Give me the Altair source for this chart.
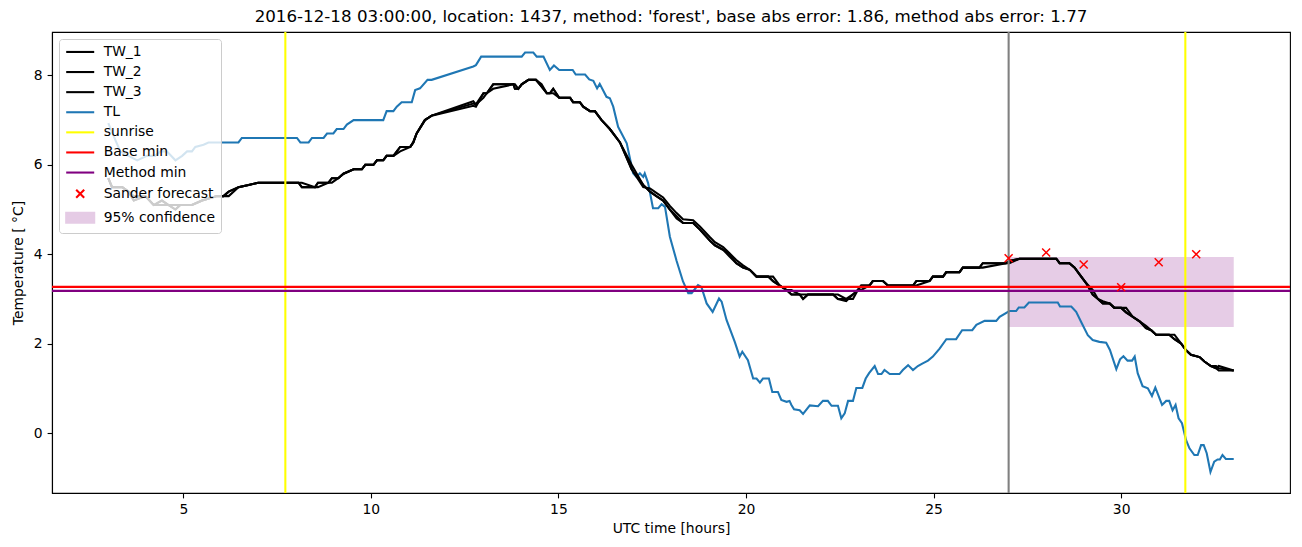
import altair as alt
import pandas as pd

# ---------------- data ----------------
tl_hours = [3.0, 3.19, 3.32, 3.54, 3.77, 4.03, 4.25, 4.39, 4.56, 4.79, 4.97, 5.1, 5.23, 5.32, 5.54, 5.67,
            6.47, 6.56, 8.03, 8.12, 8.34, 8.43, 8.74, 8.83, 9.0, 9.09, 9.27, 9.36, 9.54, 10.33, 10.42,
            10.6, 10.69, 10.82, 11.09, 11.18, 11.31, 11.51, 11.62, 12.73, 12.8, 12.94, 14.02, 14.11,
            14.33, 14.42, 14.6, 14.77, 14.88, 15.02, 15.38, 15.46, 15.71, 15.82, 15.93, 16.03, 16.1,
            16.28, 16.37, 16.46, 16.59, 16.82, 16.99, 17.08, 17.17, 17.26, 17.3, 17.39, 17.52, 17.66,
            17.75, 17.84, 17.97, 18.15, 18.32, 18.46, 18.55, 18.72, 18.81, 18.95, 19.11, 19.28, 19.35,
            19.48, 19.7, 19.83, 19.9, 20.05, 20.19, 20.28, 20.37, 20.45, 20.61, 20.7, 20.85, 20.94,
            21.08, 21.16, 21.21, 21.28, 21.43, 21.52, 21.7, 21.92, 22.05, 22.18, 22.28, 22.45, 22.54,
            22.63, 22.72, 22.85, 22.94, 23.1, 23.19, 23.28, 23.43, 23.52, 23.61, 23.69, 23.83, 24.09,
            24.18, 24.32, 24.45, 24.58, 24.71, 24.85, 24.98, 25.16, 25.34, 25.6, 25.76, 26.03, 26.14,
            26.36, 26.67, 26.76, 27.02, 27.2, 27.27, 27.42, 27.54, 28.31, 28.37, 28.67, 28.8, 28.93,
            29.11, 29.24, 29.42, 29.6, 29.7, 29.87, 29.97, 30.06, 30.17, 30.29, 30.36, 30.44, 30.57,
            30.71, 30.82, 30.91, 31.09, 31.2, 31.28, 31.37, 31.45, 31.53, 31.62, 31.73, 31.82, 31.95,
            32.04, 32.13, 32.2, 32.28, 32.38, 32.48, 32.57, 32.63, 32.7, 32.79, 33.0]
tl_temp = [6.93, 6.55, 6.3, 6.2, 6.1, 6.2, 6.2, 6.3, 6.3, 6.1, 6.2, 6.3, 6.3, 6.4, 6.45, 6.5,
           6.5, 6.6, 6.6, 6.5, 6.5, 6.6, 6.6, 6.7, 6.7, 6.8, 6.8, 6.9, 7.0, 7.0, 7.2,
           7.2, 7.3, 7.4, 7.4, 7.67, 7.71, 7.9, 7.9, 8.2, 8.23, 8.42, 8.42, 8.51,
           8.51, 8.42, 8.42, 8.12, 8.22, 8.12, 8.12, 8.02, 8.02, 7.91, 7.88, 7.71, 7.81,
           7.52, 7.49, 7.3, 6.85, 6.48, 5.81, 5.73, 5.81, 5.73, 5.81, 5.59, 5.03, 5.03,
           5.12, 5.06, 4.39, 3.85, 3.39, 3.13, 3.13, 3.31, 3.27, 2.9, 2.71, 3.01, 2.94,
           2.53, 2.04, 1.71, 1.82, 1.63, 1.22, 1.22, 1.13, 1.22, 1.22, 0.92, 0.92, 0.74,
           0.7, 0.72, 0.63, 0.53, 0.51, 0.43, 0.62, 0.6, 0.72, 0.72, 0.61, 0.61, 0.33,
           0.44, 0.72, 0.72, 1.01, 1.01, 1.22, 1.34, 1.5, 1.32, 1.32, 1.41, 1.32, 1.32,
           1.41, 1.52, 1.41, 1.5, 1.56, 1.62, 1.71, 1.89, 2.1, 2.1, 2.3, 2.3, 2.42,
           2.51, 2.51, 2.6, 2.73, 2.73, 2.81, 2.81, 2.92, 2.92, 2.83, 2.83, 2.71, 2.49,
           2.19, 2.08, 2.04, 2.02, 1.86, 1.43, 1.65, 1.72, 1.62, 1.62, 1.71, 1.34, 1.05,
           1.0, 0.83, 1.02, 0.63, 0.72, 0.72, 0.51, 0.63, 0.33, 0.22, -0.16, -0.34, -0.49,
           -0.49, -0.27, -0.27, -0.45, -0.87, -0.64, -0.59, -0.59, -0.49, -0.58, -0.58]

tw_hours = [3.0, 3.1, 3.37, 3.54, 3.68, 3.99, 4.21, 4.43, 4.61, 4.79, 4.92, 5.23, 5.5, 5.9, 6.07,
            6.21, 6.47, 6.74, 7.0, 8.07, 8.16, 8.51, 8.59, 8.87, 8.96, 9.13, 9.27, 9.54, 9.76, 9.85,
            10.07, 10.16, 10.33, 10.42, 10.6, 10.78, 11.05, 11.13, 11.22, 11.44, 11.62, 12.73, 12.8,
            13.0, 13.09, 13.26, 13.8, 13.84, 13.93, 14.02, 14.2, 14.4, 14.55, 14.69, 14.77, 14.86,
            15.02, 15.31, 15.39, 15.57, 15.66, 15.84, 15.97, 16.06, 16.15, 16.37, 16.64, 16.95,
            17.26, 17.44, 17.61, 17.79, 17.97, 18.15, 18.32, 18.59, 18.77, 19.04, 19.17, 19.39,
            19.56, 19.74, 19.92, 20.1, 20.28, 20.59, 20.72, 20.9, 21.08, 21.21, 21.43, 21.52, 21.65,
            22.32, 22.45, 22.67, 22.85, 22.98, 23.07, 23.29, 23.38, 23.65, 23.78, 24.45, 24.54,
            24.89, 24.98, 25.25, 25.34, 25.69, 25.78, 26.22, 26.31, 26.93, 27.02, 27.29, 28.27,
            28.36, 28.62, 28.76, 28.89, 29.07, 29.24, 29.38, 29.51, 29.69, 29.82, 30.0, 30.13,
            30.31, 30.49, 30.66, 30.8, 30.93, 31.28, 31.42, 31.6, 31.73, 31.86, 32.09, 32.22,
            32.39, 32.53, 32.6, 33.0]
tw_1 = [5.7, 5.5, 5.5, 5.4, 5.2, 5.3, 5.1, 5.2, 5.1, 5.0, 5.1, 5.1, 5.2, 5.3, 5.3,
        5.4, 5.5, 5.55, 5.6, 5.6, 5.5, 5.5, 5.6, 5.6, 5.7, 5.7, 5.8, 5.9, 5.9, 6.0,
        6.0, 6.1, 6.1, 6.2, 6.2, 6.4, 6.4, 6.5, 6.7, 7.0, 7.1, 7.37, 7.35,
        7.6, 7.6, 7.8, 7.8, 7.7, 7.7, 7.8, 7.9, 7.9, 7.75, 7.6, 7.6, 7.7,
        7.5, 7.5, 7.4, 7.4, 7.3, 7.2, 7.2, 7.1, 7.0, 6.8, 6.5, 5.9,
        5.55, 5.4, 5.3, 5.2, 5.0, 4.85, 4.7, 4.7, 4.55, 4.3, 4.2, 4.1,
        3.95, 3.8, 3.7, 3.65, 3.5, 3.5, 3.4, 3.3, 3.2, 3.1, 3.1, 3.0, 3.1,
        3.1, 3.0, 3.0, 3.1, 3.2, 3.3, 3.3, 3.4, 3.4, 3.3, 3.3, 3.4,
        3.4, 3.5, 3.5, 3.6, 3.6, 3.7, 3.7, 3.8, 3.8, 3.85, 3.9, 3.9,
        3.8, 3.8, 3.7, 3.55, 3.35, 3.1, 3.0, 2.9, 2.9, 2.8, 2.8, 2.7,
        2.6, 2.5, 2.35, 2.3, 2.2, 2.2, 2.1, 2.0, 1.85, 1.75, 1.7, 1.6,
        1.5, 1.45, 1.4, 1.4]
tw_2 = [5.7, 5.5, 5.5, 5.4, 5.3, 5.3, 5.1, 5.1, 5.1, 5.0, 5.1, 5.1, 5.2, 5.3, 5.3,
        5.4, 5.5, 5.55, 5.6, 5.6, 5.6, 5.5, 5.6, 5.6, 5.6, 5.7, 5.8, 5.9, 5.9, 6.0,
        6.0, 6.1, 6.1, 6.2, 6.2, 6.4, 6.4, 6.5, 6.7, 7.0, 7.1, 7.42, 7.35,
        7.5, 7.6, 7.8, 7.8, 7.8, 7.7, 7.8, 7.9, 7.9, 7.8, 7.6, 7.6, 7.7,
        7.5, 7.5, 7.4, 7.4, 7.3, 7.2, 7.2, 7.1, 7.0, 6.8, 6.5, 5.9,
        5.5, 5.47, 5.37, 5.27, 5.08, 4.92, 4.78, 4.76, 4.62, 4.38, 4.27, 4.16,
        4.02, 3.87, 3.75, 3.65, 3.5, 3.5, 3.5, 3.3, 3.2, 3.1, 3.1, 3.1, 3.1,
        3.1, 3.1, 3.0, 3.0, 3.2, 3.3, 3.3, 3.4, 3.4, 3.3, 3.3, 3.4,
        3.4, 3.5, 3.5, 3.6, 3.6, 3.7, 3.7, 3.8, 3.8, 3.8, 3.9, 3.9,
        3.8, 3.8, 3.7, 3.55, 3.35, 3.2, 3.0, 2.9, 2.9, 2.8, 2.8, 2.8,
        2.6, 2.5, 2.4, 2.3, 2.2, 2.2, 2.1, 2.0, 1.85, 1.75, 1.7, 1.6,
        1.5, 1.5, 1.45, 1.4]
tw_3 = [5.7, 5.5, 5.5, 5.4, 5.2, 5.3, 5.1, 5.2, 5.1, 5.1, 5.1, 5.1, 5.2, 5.3, 5.3,
        5.3, 5.5, 5.55, 5.6, 5.6, 5.5, 5.5, 5.5, 5.6, 5.7, 5.7, 5.8, 5.9, 5.9, 6.0,
        6.0, 6.1, 6.1, 6.2, 6.2, 6.3, 6.4, 6.5, 6.7, 7.0, 7.1, 7.32, 7.3,
        7.6, 7.6, 7.7, 7.8, 7.7, 7.7, 7.8, 7.9, 7.9, 7.75, 7.6, 7.6, 7.6,
        7.5, 7.5, 7.4, 7.4, 7.3, 7.2, 7.2, 7.1, 7.0, 6.8, 6.5, 6.0,
        5.55, 5.4, 5.3, 5.2, 5.0, 4.8, 4.7, 4.7, 4.55, 4.3, 4.2, 4.1,
        4.0, 3.8, 3.7, 3.65, 3.5, 3.5, 3.4, 3.3, 3.2, 3.2, 3.1, 3.0, 3.1,
        3.1, 3.0, 2.95, 3.1, 3.2, 3.2, 3.3, 3.4, 3.4, 3.3, 3.3, 3.3,
        3.4, 3.5, 3.5, 3.6, 3.6, 3.7, 3.7, 3.7, 3.8, 3.85, 3.9, 3.9,
        3.8, 3.8, 3.7, 3.55, 3.35, 3.1, 3.0, 2.95, 2.9, 2.8, 2.8, 2.7,
        2.6, 2.5, 2.35, 2.3, 2.2, 2.2, 2.2, 2.0, 1.85, 1.75, 1.7, 1.6,
        1.5, 1.45, 1.5, 1.4]

sunrise_hours = [7.72, 31.71]
forecast_hours = [27.0]
base_min = [3.27]
method_min = [3.18]
sander_hours = [27, 28, 29, 30, 31, 32]
sander_temp = [3.91, 4.04, 3.77, 3.26, 3.82, 4.0]
conf_hours = [27.0, 33.0]
conf_temp = [2.37, 3.94]

series_names = ["TW_1", "TW_2", "TW_3", "TL", "sunrise", "Base min", "Method min",
                "Sander forecast", "95% confidence"]

TITLE = ("2016-12-18 03:00:00, location: 1437, method: 'forest', "
         "base abs error: 1.86, method abs error: 1.77")

# ---------------- tables ----------------
df_tl = pd.DataFrame({"hour": tl_hours, "temp": tl_temp})
df_tw = pd.concat([
    pd.DataFrame({"hour": tw_hours, "temp": vals, "series": name})
    for name, vals in [("TW_1", tw_1), ("TW_2", tw_2), ("TW_3", tw_3)]
])
df_sun = pd.DataFrame({"hour": sunrise_hours})
df_fc = pd.DataFrame({"hour": forecast_hours})
df_base = pd.DataFrame({"temp": base_min})
df_meth = pd.DataFrame({"temp": method_min})
df_sander = pd.DataFrame({"hour": sander_hours, "temp": sander_temp,
                          "series": "Sander forecast"})
df_conf = pd.DataFrame({"x1": [conf_hours[0]], "x2": [conf_hours[1]],
                        "y1": [conf_temp[0]], "y2": [conf_temp[1]]})

# ---------------- styling ----------------
FONT = "DejaVu Sans"
FS = 13.9
LW = 2.08
band_col = "#e5cbe5"
stroke_range = ["black", "black", "black", "#1f77b4", "yellow", "red", "purple", "red", band_col]
fill_range = ["transparent"] * 8 + [band_col]
LINE_PATH = "M-2.8,0H2.8"
X_PATH = "M-0.8,-0.8L0.8,0.8M-0.8,0.8L0.8,-0.8"
BOX_PATH = "M-2.8,-1H2.8V1H-2.8Z"
shape_range = [LINE_PATH] * 7 + [X_PATH, BOX_PATH]

xscale = alt.Scale(domain=[1.5, 34.5], nice=False, zero=False)
yscale = alt.Scale(domain=[-1.34, 8.97], nice=False, zero=False)

xaxis = alt.Axis(title="UTC time [hours]", values=[5, 10, 15, 20, 25, 30], format="d",
                 grid=False, tickSize=4.9, tickWidth=1.1, tickColor="black",
                 domainColor="black", domainWidth=1.1, labelFont=FONT, labelFontSize=FS,
                 labelColor="black", labelPadding=4.9, titleFont=FONT, titleFontSize=FS,
                 titleFontWeight="normal", titleColor="black", titlePadding=5)
yaxis = alt.Axis(title="Temperature [ °C]", values=[0, 2, 4, 6, 8], format="d",
                 grid=False, tickSize=4.9, tickWidth=1.1, tickColor="black",
                 domainColor="black", domainWidth=1.1, labelFont=FONT, labelFontSize=FS,
                 labelColor="black", labelPadding=4.9, titleFont=FONT, titleFontSize=FS,
                 titleFontWeight="normal", titleColor="black", titlePadding=8)

X = alt.X("hour:Q", scale=xscale, axis=xaxis)
Y = alt.Y("temp:Q", scale=yscale, axis=yaxis)

legend = alt.Legend(title=None, orient="top-left", offset=7, padding=6, rowPadding=5.1,
                    labelFont=FONT, labelFontSize=FS, labelColor="black", labelLimit=400,
                    symbolSize=100, symbolStrokeWidth=LW, symbolOffset=8.25, labelOffset=16.5,
                    symbolFillColor="transparent", fillColor="rgba(255,255,255,0.8)",
                    strokeColor="#cccccc", cornerRadius=3)

band = alt.Chart(df_conf).mark_rect(color="purple", opacity=0.2).encode(
    x=alt.X("x1:Q", scale=xscale, axis=xaxis), x2="x2:Q",
    y=alt.Y("y1:Q", scale=yscale, axis=yaxis), y2="y2:Q")

tl = alt.Chart(df_tl).mark_line(color="#1f77b4", strokeWidth=LW).encode(x=X, y=Y)

tw = alt.Chart(df_tw).mark_line(color="black", strokeWidth=LW).encode(
    x=X, y=Y, detail="series:N")

sun = alt.Chart(df_sun).mark_rule(color="yellow", strokeWidth=LW).encode(x=X)
fc = alt.Chart(df_fc).mark_rule(color="gray", strokeWidth=LW).encode(x=X)
base = alt.Chart(df_base).mark_rule(color="red", strokeWidth=LW).encode(y=Y)
meth = alt.Chart(df_meth).mark_rule(color="purple", strokeWidth=LW).encode(y=Y)

pts = alt.Chart(df_sander).mark_point(size=100, strokeWidth=1.5, opacity=1).encode(
    x=X, y=Y,
    stroke=alt.Stroke("series:N", scale=alt.Scale(domain=series_names, range=stroke_range),
                      legend=legend),
    fill=alt.Fill("series:N", scale=alt.Scale(domain=series_names, range=fill_range),
                  legend=legend),
    shape=alt.Shape("series:N", scale=alt.Scale(domain=series_names, range=shape_range),
                    legend=legend),
)

chart = alt.layer(band, tl, tw, sun, fc, base, meth, pts).properties(
    width=1238, height=461,
    padding={"left": 52, "top": 32, "right": 12, "bottom": 54},
    autosize=alt.AutoSizeParams(type="none"),
    title=alt.Title(TITLE, font=FONT, fontSize=16.7, fontWeight="normal", color="black",
                    anchor="middle", offset=5),
).configure_view(stroke="black", strokeWidth=1.1)

chart.save("out.html", embed_options={"renderer": "svg", "actions": False})
